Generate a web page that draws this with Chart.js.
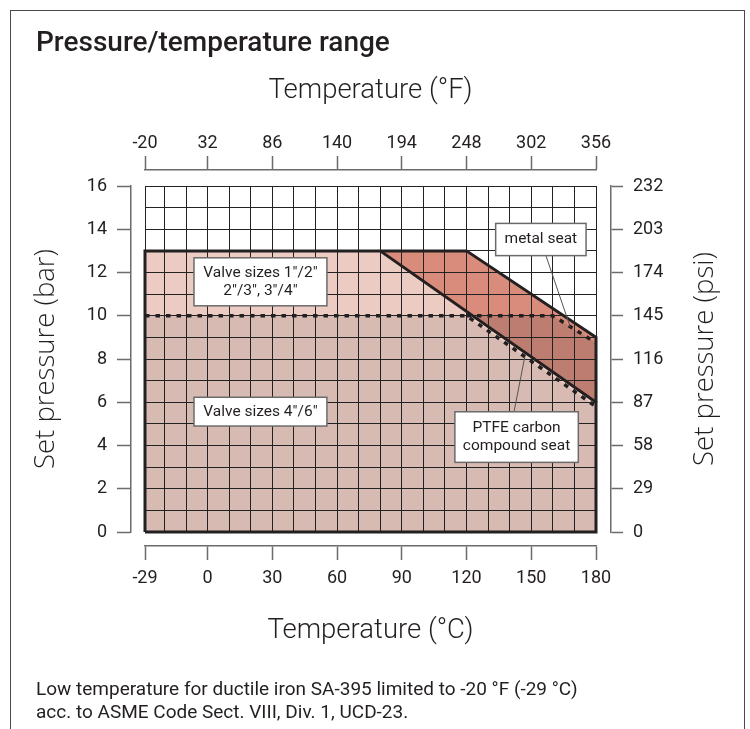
<!DOCTYPE html>
<html>
<head>
<meta charset="utf-8">
<script src="https://cdn.jsdelivr.net/npm/chart.js@4.4.0/dist/chart.umd.min.js"></script>
<style>
  html, body { margin: 0; padding: 0; background: #fff; }
  body { width: 750px; height: 729px; position: relative; overflow: hidden; font-family: Roboto, sans-serif; color: #231f20; }
  #frame { position: absolute; left: 10px; top: 10px; width: 735px; height: 760px; border: 1.5px solid #4a4a4a; box-sizing: border-box; }
  #wrap { position: absolute; left: 0; top: 0; width: 750px; height: 729px; }
  #title { position: absolute; left: 36px; top: 25px; font-size: 28px; font-weight: 500; }
  #note { position: absolute; left: 36px; top: 677px; font-size: 19px; line-height: 23px; }
</style>
</head>
<body>
<div id="frame"></div>
<div id="wrap"><canvas id="chart" width="750" height="729"></canvas></div>
<div id="title">Pressure/temperature range</div>
<div id="note">Low temperature for ductile iron SA-395 limited to -20 °F (-29 °C)<br>acc. to ASME Code Sect. VIII, Div. 1, UCD-23.</div>
<script>
// axis labels
const tempC = [-29, 0, 30, 60, 90, 120, 150, 180];
const tempF = [-20, 32, 86, 140, 194, 248, 302, 356];
const pressureBar = [0, 2, 4, 6, 8, 10, 12, 14, 16];
const pressurePsi = [0, 29, 58, 87, 116, 145, 174, 203, 232];

// limit curves, temperature in °C, pressure in bar
const ptfeTemp = [-29, 80, 180];
const ptfeSmall = [13, 13, 6];        // PTFE seat, valve sizes 1"/2" .. 3"/4"
const ptfeLargeTemp = [-29, 120, 180];
const ptfeLarge = [10, 10, 5.8];      // PTFE seat, valve sizes 4"/6"
const metalTemp = [80, 120, 180];
const metalSmall = [13, 13, 9];       // metal seat, small valves
const metalLargeTemp = [120, 160, 180];
const metalLarge = [10, 10, 8.75];    // metal seat, valve sizes 4"/6"

const tMin = tempC[0], tMax = tempC[tempC.length - 1];
const pMin = pressureBar[0], pMax = pressureBar[pressureBar.length - 1];

// grid every 10 °C, every 1 bar
const gridTemp = [tMin];
for (let t = -20; t < tMax; t += 10) gridTemp.push(t);
gridTemp.push(tMax);
const gridBar = [];
for (let p = pMin; p <= pMax; p++) gridBar.push(p);

const pts = (xs, ys) => xs.map((x, i) => ({x: x, y: ys[i]}));

const ink = '#231f20';
const axisGrey = '#6b6b6b';

const notes = [
  {lines: ['Valve sizes 1"/2"', '2"/3", 3"/4"'], x0: -6.3, x1: 55.3, y0: 12.68, y1: 10.46},
  {lines: ['Valve sizes 4"/6"'], x0: -6.3, x1: 55.3, y0: 6.23, y1: 4.9},
  {lines: ['metal seat'], x0: 133.5, x1: 175.4, y0: 14.27, y1: 12.78},
  {lines: ['PTFE carbon', 'compound seat'], x0: 114.6, x1: 171.8, y0: 5.56, y1: 3.22}
];
const leaders = [
  {from: [156.8, 12.78], to: [168, 9.5]},
  {from: [142, 5.56], to: [147, 8.1]}
];

const tickFont = {size: 18, family: 'Roboto'};
const titleFont = {size: 27.5, family: 'Roboto', weight: 300};
const sideTitleFont = {size: 27.5, family: 'Open Sans', weight: 300};

const notesPlugin = {
  id: 'notes',
  afterDraw(chart) {
    const ctx = chart.ctx;
    const xs = chart.scales.x, ys = chart.scales.y;
    ctx.save();
    ctx.strokeStyle = '#555';
    ctx.lineWidth = 1;
    leaders.forEach(l => {
      ctx.beginPath();
      ctx.moveTo(xs.getPixelForValue(l.from[0]), ys.getPixelForValue(l.from[1]));
      ctx.lineTo(xs.getPixelForValue(l.to[0]), ys.getPixelForValue(l.to[1]));
      ctx.stroke();
    });
    notes.forEach(n => {
      const x0 = xs.getPixelForValue(n.x0), x1 = xs.getPixelForValue(n.x1);
      const y0 = ys.getPixelForValue(n.y0), y1 = ys.getPixelForValue(n.y1);
      ctx.fillStyle = '#fff';
      ctx.fillRect(x0, y0, x1 - x0, y1 - y0);
      ctx.lineWidth = 1.5;
      ctx.strokeStyle = '#6b6b6b';
      ctx.strokeRect(x0, y0, x1 - x0, y1 - y0);
      ctx.fillStyle = ink;
      ctx.font = '15.5px Roboto';
      ctx.textAlign = 'center';
      ctx.textBaseline = 'middle';
      const cy = (y0 + y1) / 2, lh = 18;
      n.lines.forEach((s, i) => {
        ctx.fillText(s, (x0 + x1) / 2, cy + (i - (n.lines.length - 1) / 2) * lh);
      });
    });
    // right axis title, reading bottom to top
    const yr = chart.scales.yr;
    ctx.save();
    ctx.translate(yr.right - 45, (chart.chartArea.top + chart.chartArea.bottom) / 2);
    ctx.rotate(-Math.PI / 2);
    ctx.font = sideTitleFont.weight + ' ' + sideTitleFont.size + 'px "' + sideTitleFont.family + '"';
    ctx.fillStyle = ink;
    ctx.fillText('Set pressure (psi)', 0, 0);
    ctx.restore();
    ctx.restore();
  }
};

const fillSet = (data, color, order) => ({
  data: data, order: order, fill: 'origin', backgroundColor: color,
  borderColor: 'rgba(0,0,0,0)', borderWidth: 0, pointRadius: 0, clip: false
});
const lineSet = (data, width, dash, order) => ({
  data: data, order: order, fill: false, borderColor: ink, borderWidth: width,
  borderDash: dash, borderJoinStyle: 'miter', pointRadius: 0, clip: false
});

const ctx = document.getElementById('chart').getContext('2d');
new Chart(ctx, {
  type: 'line',
  data: {
    datasets: [
      fillSet(pts(metalTemp, metalSmall), '#d98c7c', 10),
      fillSet(pts(metalLargeTemp, metalLarge), '#bd7d71', 9),
      fillSet(pts(ptfeTemp, ptfeSmall), '#ebcbc2', 8),
      fillSet(pts(ptfeLargeTemp, ptfeLarge), '#d7bab2', 7),
      lineSet(pts(ptfeLargeTemp, ptfeLarge), 3.5, [4.5, 6], 4),
      lineSet(pts(metalLargeTemp, metalLarge), 3.5, [4.5, 6], 3),
      lineSet([{x: tMin, y: pMin}].concat(pts(ptfeTemp, ptfeSmall), [{x: tMax, y: pMin}, {x: tMin, y: pMin}]), 3, [], 2),
      lineSet(pts(metalTemp, metalSmall).concat([{x: tMax, y: ptfeSmall[2]}]), 3, [], 1)
    ]
  },
  options: {
    responsive: false,
    animation: false,
    devicePixelRatio: 1,
    layout: {padding: 0},
    plugins: {legend: {display: false}, tooltip: {enabled: false}},
    scales: {
      x: {
        type: 'linear', position: 'bottom', min: tMin, max: tMax,
        afterBuildTicks: s => { s.ticks = gridTemp.map(v => ({value: v})); },
        ticks: {display: false},
        grid: {z: 1, color: '#222', lineWidth: 1, tickLength: 14, tickColor: 'rgba(0,0,0,0)'},
        border: {display: false}
      },
      y: {
        type: 'linear', position: 'left', min: pMin, max: pMax,
        afterBuildTicks: s => { s.ticks = gridBar.map(v => ({value: v})); },
        ticks: {display: false},
        grid: {z: 1, color: '#222', lineWidth: 1, tickLength: 14, tickColor: 'rgba(0,0,0,0)'},
        border: {display: false}
      },
      xt: {
        type: 'linear', position: 'top', min: tMin, max: tMax,
        ticks: {display: false},
        grid: {drawOnChartArea: false, tickLength: 16, tickColor: 'rgba(0,0,0,0)'},
        border: {display: false}
      },
      ys: {
        type: 'linear', position: 'right', min: pMin, max: pMax,
        ticks: {display: false},
        grid: {drawOnChartArea: false, tickLength: 15, tickColor: 'rgba(0,0,0,0)'},
        border: {display: false}
      },
      xb: {
        type: 'linear', position: 'bottom', weight: 1, min: tMin, max: tMax,
        afterBuildTicks: s => { s.ticks = tempC.map(v => ({value: v})); },
        afterFit: s => { s.height = 183; },
        ticks: {padding: 8, font: tickFont, color: ink, maxRotation: 0, autoSkip: false, callback: (v, i) => String(tempC[i])},
        grid: {drawOnChartArea: false, tickLength: 14, tickColor: axisGrey, tickWidth: 1.5},
        border: {color: axisGrey, width: 1.5},
        title: {display: true, text: 'Temperature (°C)', font: titleFont, color: ink, padding: {top: 0, bottom: 81}}
      },
      xf: {
        type: 'linear', position: 'top', weight: 1, min: tMin, max: tMax,
        afterBuildTicks: s => { s.ticks = tempC.map(v => ({value: v})); },
        afterFit: s => { s.height = 170; },
        ticks: {padding: 2, font: tickFont, color: ink, maxRotation: 0, autoSkip: false, callback: (v, i) => String(tempF[i])},
        grid: {drawOnChartArea: false, tickLength: 14, tickColor: axisGrey, tickWidth: 1.5},
        border: {color: axisGrey, width: 1.5},
        title: {display: true, text: 'Temperature (°F)', font: titleFont, color: ink, padding: {top: 75, bottom: 0}}
      },
      yl: {
        type: 'linear', position: 'left', weight: 1, min: pMin, max: pMax,
        afterBuildTicks: s => { s.ticks = pressureBar.map(v => ({value: v})); },
        afterFit: s => { s.width = 131; },
        ticks: {padding: 10, font: tickFont, color: ink, autoSkip: false, callback: (v, i) => String(pressureBar[i])},
        grid: {drawOnChartArea: false, tickLength: 14, tickColor: axisGrey, tickWidth: 1.5},
        border: {color: axisGrey, width: 1.5},
        title: {display: true, text: 'Set pressure (bar)', font: sideTitleFont, color: ink, padding: {top: 30, bottom: 0}}
      },
      yr: {
        type: 'linear', position: 'right', weight: 1, min: pMin, max: pMax,
        afterBuildTicks: s => { s.ticks = pressureBar.map(v => ({value: v})); },
        afterFit: s => { s.width = 139; },
        ticks: {padding: 10, font: tickFont, color: ink, autoSkip: false, callback: (v, i) => String(pressurePsi[i])},
        grid: {drawOnChartArea: false, tickLength: 12, tickColor: axisGrey, tickWidth: 1.5},
        border: {color: axisGrey, width: 1.5}
      }
    }
  },
  plugins: [notesPlugin]
});
</script>
</body>
</html>
